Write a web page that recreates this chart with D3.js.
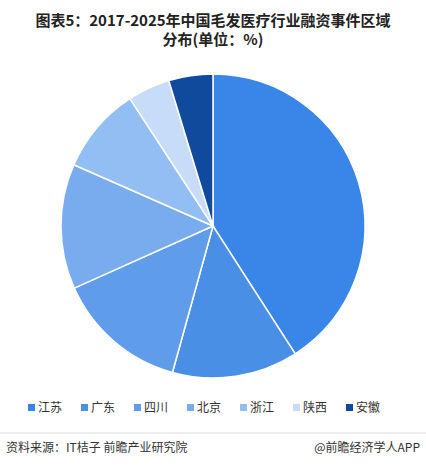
<!DOCTYPE html>
<html><head><meta charset="utf-8">
<script src="https://cdn.jsdelivr.net/npm/d3@7"></script>
<style>body{margin:0;background:#fff;font-family:"Noto Sans CJK SC",sans-serif}</style>
</head><body><svg id="c" width="426" height="468"></svg>
<script>
var regions = ['江苏', '广东', '四川', '北京', '浙江', '陕西', '安徽'];
var shares = [40.9, 13.4, 14.0, 13.3, 9.2, 4.5, 4.7];
var colors = ['#3a86e8', '#4a8fe6', '#5f9cea', '#78acef', '#93bef3', '#c6dcf8', '#0f4a9c'];

var svg = d3.select('#c');
// title
svg.append('text').attr('x', 213).attr('y', 26).attr('text-anchor', 'middle')
  .attr('font-size', 15).attr('font-weight', 'bold').attr('fill', '#222')
  .text('图表5：2017-2025年中国毛发医疗行业融资事件区域');
svg.append('text').attr('x', 213).attr('y', 45).attr('text-anchor', 'middle')
  .attr('font-size', 15).attr('font-weight', 'bold').attr('fill', '#222')
  .text('分布(单位：%)');

var pie = d3.pie().sort(null).value(function(d) { return d; });
var arc = d3.arc().innerRadius(0).outerRadius(152);
var g = svg.append('g').attr('transform', 'translate(213,226)');
g.selectAll('path').data(pie(shares)).enter().append('path')
  .attr('d', arc)
  .attr('fill', function(d, i) { return colors[i]; })
  .attr('stroke', '#fff').attr('stroke-width', 1.5);

// legend
var x = d3.scalePoint().domain(regions).range([52, 370]);
var lg = svg.append('g').selectAll('g').data(regions).enter().append('g')
  .attr('transform', function(d) { return 'translate(' + x(d) + ',408)'; });
lg.append('rect').attr('x', -24).attr('y', -4).attr('width', 7).attr('height', 7)
  .attr('fill', function(d, i) { return colors[i]; });
lg.append('text').attr('x', -14).attr('y', 4).attr('font-size', 12).attr('fill', '#333')
  .text(function(d) { return d; });

svg.append('line').attr('x1', 0).attr('x2', 426).attr('y1', 433).attr('y2', 433)
  .attr('stroke', '#ddd');
svg.append('text').attr('x', 6).attr('y', 452).attr('font-size', 12).attr('fill', '#333')
  .text('资料来源：IT桔子 前瞻产业研究院');
svg.append('text').attr('x', 420).attr('y', 452).attr('text-anchor', 'end')
  .attr('font-size', 12).attr('fill', '#333').text('@前瞻经济学人APP');
</script></body></html>
